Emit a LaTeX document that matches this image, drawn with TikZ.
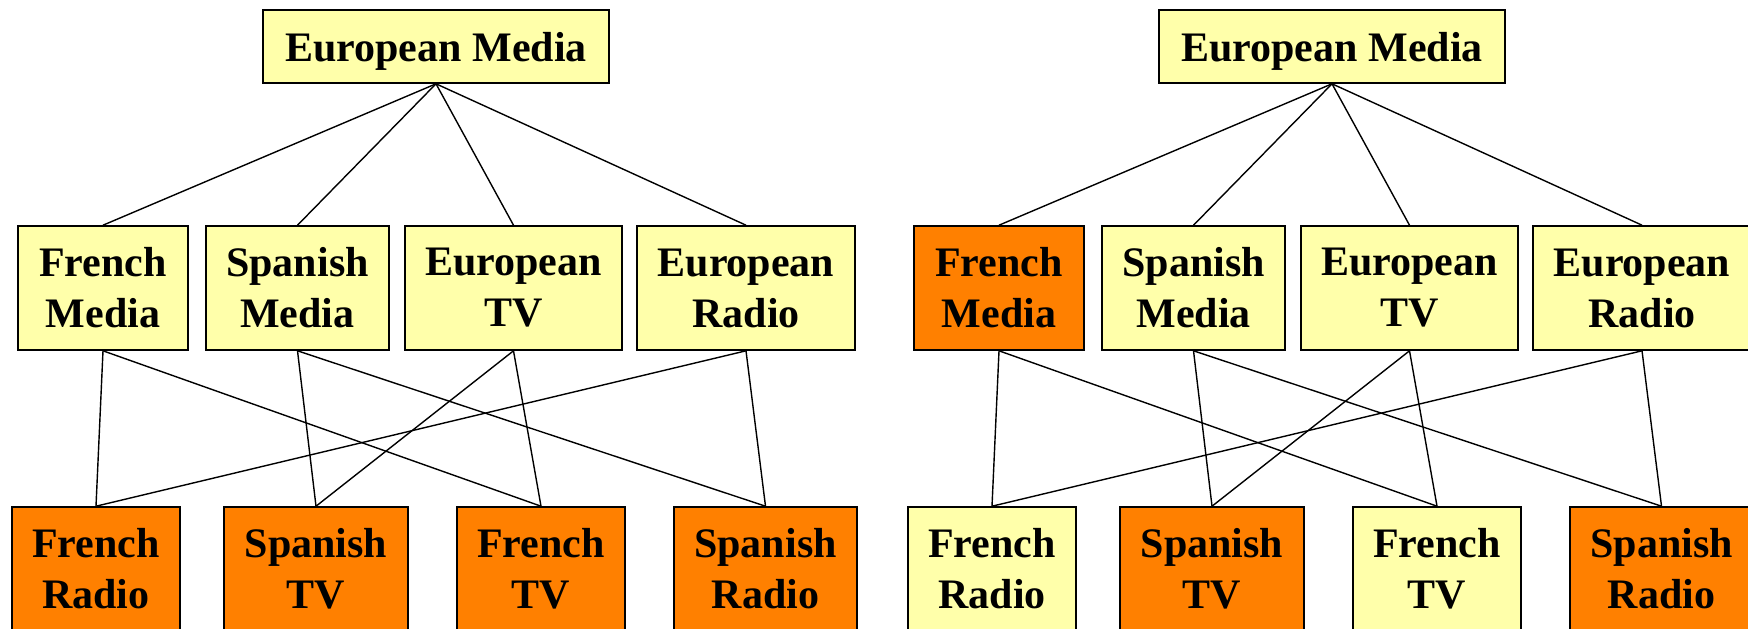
\documentclass[tikz,border=0pt]{standalone}
\usepackage{fontspec}
\setmainfont{Liberation Serif}
\definecolor{paleyel}{RGB}{255,255,170}
\definecolor{mediaorange}{RGB}{255,128,0}
\begin{document}
\begin{tikzpicture}[x=0.5pt,y=-0.5pt,
  box/.style={draw=black,line width=0.8pt,align=center,inner sep=0pt,
    font=\fontsize{21}{25.5}\selectfont\bfseries,minimum height=62pt},
  yel/.style={box,fill=paleyel},
  org/.style={box,fill=mediaorange},
  topbox/.style={yel,minimum height=36.5pt,minimum width=173pt,text depth=0pt},
  link/.style={line width=0.7pt}]
\useasboundingbox (0,0) rectangle (1748,628);
\clip (0,0) rectangle (1748,628);
% ---------- left panel ----------
\node[topbox] (lEM) at (436,46.5) {European Media};
\node[yel,minimum width=85pt]  (lFM) at (103,288)   {French\\Media};
\node[yel,minimum width=91.5pt] (lSM) at (297.5,288) {Spanish\\Media};
\node[yel,minimum width=108.5pt] (lET) at (513.5,288) {European\\TV};
\node[yel,minimum width=109pt] (lER) at (746,288)   {European\\Radio};
\node[org,minimum width=84pt]  (lFR) at (96,569)    {French\\Radio};
\node[org,minimum width=92pt]  (lST) at (316,569)   {Spanish\\TV};
\node[org,minimum width=84pt]  (lFT) at (541,569)   {French\\TV};
\node[org,minimum width=91.5pt] (lSR) at (765.5,569) {Spanish\\Radio};
% ---------- right panel ----------
\node[topbox] (rEM) at (1332,46.5) {European Media};
\node[org,minimum width=85pt]  (rFM) at (999,288)   {French\\Media};
\node[yel,minimum width=91.5pt] (rSM) at (1193.5,288) {Spanish\\Media};
\node[yel,minimum width=108.5pt] (rET) at (1409.5,288) {European\\TV};
\node[yel,minimum width=109pt] (rER) at (1642,288)   {European\\Radio};
\node[yel,minimum width=84pt]  (rFR) at (992,569)    {French\\Radio};
\node[org,minimum width=92pt]  (rST) at (1212,569)   {Spanish\\TV};
\node[yel,minimum width=84pt]  (rFT) at (1437,569)   {French\\TV};
\node[org,minimum width=91.5pt] (rSR) at (1661.5,569) {Spanish\\Radio};
% ---------- connectors ----------
\foreach \p in {l,r}{
  \foreach \m in {FM,SM,ET,ER}{
    \draw[link] (\p EM.south) -- (\p\m.north);
  }
  \draw[link] (\p FM.south) -- (\p FR.north);
  \draw[link] (\p FM.south) -- (\p FT.north);
  \draw[link] (\p SM.south) -- (\p ST.north);
  \draw[link] (\p SM.south) -- (\p SR.north);
  \draw[link] (\p ET.south) -- (\p ST.north);
  \draw[link] (\p ET.south) -- (\p FT.north);
  \draw[link] (\p ER.south) -- (\p FR.north);
  \draw[link] (\p ER.south) -- (\p SR.north);
}
\end{tikzpicture}
\end{document}
